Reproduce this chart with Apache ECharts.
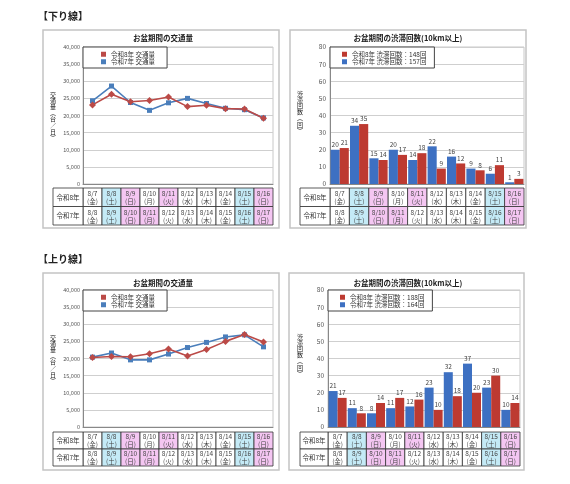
<!DOCTYPE html>
<html>
<head>
<meta charset="utf-8">
<script src="https://cdn.jsdelivr.net/npm/echarts@6/dist/echarts.min.js"></script>
<style>
  html, body { margin: 0; padding: 0; background: #fff; }
  #main { width: 570px; height: 484px; }
</style>
</head>
<body>
<div id="main"></div>
<script>
const FONT = '"Noto Sans CJK JP", "Noto Sans", sans-serif';

// 日付（令和8年 / 令和7年）
const dates8 = ['8/7', '8/8', '8/9', '8/10', '8/11', '8/12', '8/13', '8/14', '8/15', '8/16'];
const dates7 = ['8/8', '8/9', '8/10', '8/11', '8/12', '8/13', '8/14', '8/15', '8/16', '8/17'];
const weekdays = ['金', '土', '日', '月', '火', '水', '木', '金', '土', '日'];
// セルの色分け（sat=土曜, hol=日曜・祝日）
const cellType8 = ['', 'sat', 'hol', '', 'hol', '', '', '', 'sat', 'hol'];
const cellType7 = ['', 'sat', 'hol', 'hol', '', '', '', '', 'sat', 'hol'];

// 下り線 交通量（台/日）
const downTraffic8 = [23100, 26200, 24000, 24400, 25400, 22600, 23000, 22000, 21900, 19200];
const downTraffic7 = [24300, 28600, 23800, 21500, 23700, 25000, 23500, 22100, 21700, 19300];
// 上り線 交通量（台/日）
const upTraffic8 = [20300, 20600, 20500, 21400, 22800, 20700, 22600, 25000, 27000, 24800];
const upTraffic7 = [20400, 21600, 19600, 19600, 21300, 23200, 24700, 26300, 26900, 23400];
// 渋滞回数（10km以上）
const downJam8 = [21, 35, 14, 17, 18, 9, 12, 8, 11, 3];
const downJam7 = [20, 34, 15, 20, 14, 22, 16, 9, 6, 1];
const upJam8 = [17, 8, 14, 17, 16, 10, 18, 20, 30, 14];
const upJam7 = [21, 11, 8, 11, 12, 23, 32, 37, 23, 10];

const trafficNames = ['令和8年 交通量', '令和7年 交通量'];
const downJamNames = ['令和8年 渋滞回数：148回', '令和7年 渋滞回数：157回'];
const upJamNames = ['令和8年 渋滞回数：188回', '令和7年 渋滞回数：164回'];

const RED_LINE = '#bb4a47';
const BLUE_LINE = '#4a7ebb';
const RED_BAR = '#bd3a31';
const BLUE_BAR = '#3d70c2';
const cellFill = { '': '#ffffff', sat: '#c4eaf6', hol: '#f4c6f2' };

const chart = echarts.init(document.getElementById('main'));

// 表（データテーブル）を描く
function tableRenderer(gap, rowH, headW) {
  return function (params, api) {
    const i = api.value(0);
    const p = api.coord([i, 0]);
    const w = api.size([1, 0])[0];
    const x0 = p[0] - w / 2;
    const y0 = p[1] + gap;
    const children = [];
    [[dates8, cellType8, '令和8年'], [dates7, cellType7, '令和7年']].forEach(function (row, r) {
      const y = y0 + r * rowH;
      children.push({
        type: 'rect',
        shape: { x: x0, y: y, width: w, height: rowH },
        style: { fill: cellFill[row[1][i]], stroke: '#333', lineWidth: 0.8 }
      });
      children.push({
        type: 'text',
        style: {
          text: row[0][i] + '\n(' + weekdays[i] + ')',
          x: p[0], y: y + rowH / 2 + 0.5,
          align: 'center', verticalAlign: 'middle',
          fontSize: 6.5, lineHeight: 8, fill: '#444', fontFamily: FONT
        }
      });
      if (i === 0) {
        children.push({
          type: 'rect',
          shape: { x: x0 - headW, y: y, width: headW, height: rowH },
          style: { fill: '#fff', stroke: '#333', lineWidth: 0.8 }
        });
        children.push({
          type: 'text',
          style: {
            text: row[2], x: x0 - headW / 2, y: y + rowH / 2,
            align: 'center', verticalAlign: 'middle',
            fontSize: 6.5, fill: '#333', fontFamily: FONT
          }
        });
      }
    });
    return { type: 'group', children: children };
  };
}

const grids = [
  { left: 83, top: 47, width: 190, height: 137 },
  { left: 330, top: 47, width: 194, height: 137 },
  { left: 83, top: 290, width: 190, height: 137 },
  { left: 328, top: 290, width: 192, height: 137 }
];

function xAxis(gi) {
  return {
    type: 'category', gridIndex: gi, data: dates8,
    axisLabel: { show: false }, axisTick: { show: false },
    axisLine: { lineStyle: { color: '#888', width: 1 } }
  };
}

function trafficAxis(gi) {
  return {
    type: 'value', gridIndex: gi, min: 0, max: 40000, interval: 5000,
    axisLine: { show: true, lineStyle: { color: '#888' } }, axisTick: { show: false },
    axisLabel: { fontSize: 5.5, color: '#555', margin: 3, formatter: v => v.toLocaleString('en-US') },
    splitLine: { lineStyle: { color: '#cfcfcf' } }
  };
}

function jamAxis(gi) {
  return {
    type: 'value', gridIndex: gi, min: 0, max: 80, interval: 10,
    axisLine: { show: true, lineStyle: { color: '#888' } }, axisTick: { show: false },
    axisLabel: { fontSize: 6.5, color: '#555', margin: 4 },
    splitLine: { lineStyle: { color: '#cfcfcf' } }
  };
}

function lineSeries(name, data, gi, color, symbol, size) {
  return {
    type: 'line', name: name, data: data, xAxisIndex: gi, yAxisIndex: gi,
    symbol: symbol, symbolSize: size, showAllSymbol: true,
    itemStyle: { color: color }, lineStyle: { color: color, width: 1.6 },
    animation: false
  };
}

function barSeries(name, data, gi, color) {
  return {
    type: 'bar', name: name, data: data, xAxisIndex: gi, yAxisIndex: gi,
    barGap: '0%', barCategoryGap: '6%',
    itemStyle: { color: color },
    label: { show: true, position: 'top', distance: 2, fontSize: 6.5, color: '#444' },
    animation: false
  };
}

function tableSeries(gi, gap, rowH, headW) {
  return {
    type: 'custom', xAxisIndex: gi, yAxisIndex: gi, silent: true, clip: false,
    data: dates8.map((d, i) => [i, 0]),
    renderItem: tableRenderer(gap, rowH, headW),
    animation: false, z: 5
  };
}

function legend(names, left, top, padding) {
  return {
    data: names, left: left, top: top, orient: 'vertical',
    backgroundColor: '#fff', borderColor: '#444', borderWidth: 1,
    padding: padding, itemWidth: 5, itemHeight: 5, itemGap: 1, icon: 'rect',
    selectedMode: false,
    textStyle: { fontSize: 6.5, color: '#333', fontFamily: FONT }
  };
}

function frame(x, y, w, h) {
  return { type: 'rect', shape: { x: x, y: y, width: w, height: h }, style: { fill: 'none', stroke: '#c4c4c4', lineWidth: 1.5 }, z: -1 };
}

function label(text, x, y, size, bold, align, lineHeight) {
  return {
    type: 'text', x: x, y: y,
    style: {
      text: text, fontSize: size, fontWeight: bold ? 'bold' : 'normal', fontFamily: FONT,
      fill: '#222', align: align || 'center', verticalAlign: 'middle', lineHeight: lineHeight
    }
  };
}

// 縦書きの軸タイトル
const trafficTitle = '交\n通\n量\n︵\n台\n／\n日\n︶';
const jamTitle = '渋\n滞\n回\n数\n︵\n回\n︶';

chart.setOption({
  backgroundColor: '#fff',
  textStyle: { fontFamily: FONT },
  grid: grids.map(g => Object.assign({ show: true, borderColor: '#c8c8c8', borderWidth: 1, backgroundColor: 'transparent' }, g)),
  xAxis: [xAxis(0), xAxis(1), xAxis(2), xAxis(3)],
  yAxis: [trafficAxis(0), jamAxis(1), trafficAxis(2), jamAxis(3)],
  legend: [
    legend(trafficNames, 83, 47, [4, 12, 3, 18]),
    legend(downJamNames, 330, 47, [4, 8, 3, 12]),
    legend(trafficNames, 83, 290, [4, 12, 3, 18]),
    legend(upJamNames, 328, 290, [4, 8, 3, 12])
  ],
  series: [
    lineSeries(trafficNames[1], downTraffic7, 0, BLUE_LINE, 'rect', 5),
    lineSeries(trafficNames[0], downTraffic8, 0, RED_LINE, 'diamond', 7),
    barSeries(downJamNames[1], downJam7, 1, BLUE_BAR),
    barSeries(downJamNames[0], downJam8, 1, RED_BAR),
    lineSeries(trafficNames[1], upTraffic7, 2, BLUE_LINE, 'rect', 5),
    lineSeries(trafficNames[0], upTraffic8, 2, RED_LINE, 'diamond', 7),
    barSeries(upJamNames[1], upJam7, 3, BLUE_BAR),
    barSeries(upJamNames[0], upJam8, 3, RED_BAR),
    tableSeries(0, 4, 18.5, 30),
    tableSeries(1, 4, 18.5, 30),
    tableSeries(2, 5, 17, 30),
    tableSeries(3, 5, 17, 28)
  ],
  graphic: [
    frame(43, 30, 236, 198),
    frame(290, 30, 236, 198),
    frame(43, 273, 236, 197),
    frame(289, 273, 235, 197),
    label('【下り線】', 38, 16, 10, true, 'left'),
    label('【上り線】', 38, 259, 10, true, 'left'),
    label('お盆期間の交通量', 163, 38, 7.5, true),
    label('お盆期間の渋滞回数(10km以上)', 408, 38, 7.5, true),
    label('お盆期間の交通量', 163, 283, 7.5, true),
    label('お盆期間の渋滞回数(10km以上)', 408, 283, 7.5, true),
    label(trafficTitle, 53, 116, 6, false, 'center', 6.2),
    label(jamTitle, 300, 112, 6, false, 'center', 6.2),
    label(trafficTitle, 53, 359, 6, false, 'center', 6.2),
    label(jamTitle, 300, 355, 6, false, 'center', 6.2)
  ]
});
</script>
</body>
</html>
